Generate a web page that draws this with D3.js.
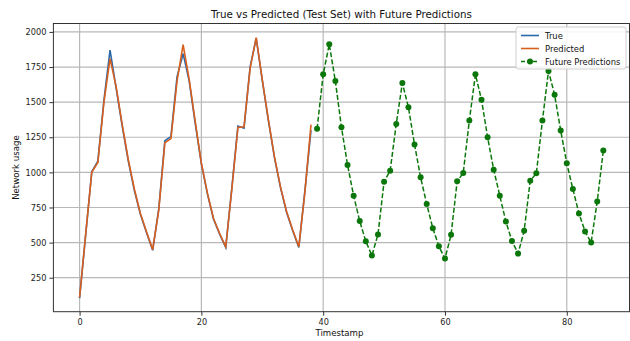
<!DOCTYPE html>
<html>
<head>
<meta charset="utf-8">
<script src="https://cdn.jsdelivr.net/npm/d3@7"></script>
<style>
  body { margin: 0; background: #fff; }
  svg { display: block; font-family: "DejaVu Sans", sans-serif; }
</style>
</head>
<body>
<div id="chart"></div>
<script>
// test set: timestamps 0..38
var trueVals = [105, 555, 1005, 1080, 1515, 1870, 1600, 1330, 1080, 870, 700, 570, 445,
                740, 1225, 1255, 1680, 1845, 1650, 1345, 1060, 845, 667, 560, 465,
                890, 1330, 1315, 1750, 1955, 1655, 1370, 1105, 890, 715, 585, 465,
                870, 1300];
var predVals = [110, 560, 1000, 1070, 1500, 1810, 1610, 1340, 1090, 880, 705, 575, 450,
                730, 1210, 1240, 1650, 1910, 1660, 1360, 1065, 850, 670, 565, 470,
                880, 1320, 1325, 1740, 1960, 1660, 1375, 1110, 895, 720, 590, 470,
                860, 1340];
// future predictions: timestamps 39..86
var futureStart = 39;
var futureVals = [1310, 1698, 1912, 1650, 1322, 1053, 834, 653, 510, 408,
                  558, 934, 1012, 1345, 1636, 1464, 1198, 965, 774, 603, 474, 386,
                  555, 936, 996, 1369, 1698, 1517, 1250, 1019, 834, 650, 512, 422,
                  584, 941, 993, 1369, 1722, 1553, 1298, 1065, 881, 708, 579, 501,
                  793, 1155];
var xTicks = [0, 20, 40, 60, 80];
var yTicks = [250, 500, 750, 1000, 1250, 1500, 1750, 2000];
var legendLabels = ["True", "Predicted", "Future Predictions"];

var width = 630, height = 341;
var pLeft = 53.4, pRight = 629.5, pTop = 23.5, pBottom = 311.7;

var svg = d3.select("#chart").append("svg")
  .attr("width", width)
  .attr("height", height);

var x = d3.scaleLinear().domain([-4.3, 90.3]).range([pLeft, pRight]);
var y = d3.scaleLinear().domain([8, 2060]).range([pBottom, pTop]);

// grid
svg.append("g").selectAll("line").data(xTicks).enter().append("line")
  .attr("x1", function(d){ return x(d); }).attr("x2", function(d){ return x(d); })
  .attr("y1", pTop).attr("y2", pBottom)
  .attr("stroke", "#b8b8b8").attr("stroke-width", 1.2);
svg.append("g").selectAll("line").data(yTicks).enter().append("line")
  .attr("x1", pLeft).attr("x2", pRight)
  .attr("y1", function(d){ return y(d); }).attr("y2", function(d){ return y(d); })
  .attr("stroke", "#b8b8b8").attr("stroke-width", 1.2);

// axes
var xAxis = svg.append("g")
  .attr("transform", "translate(0," + pBottom + ")")
  .call(d3.axisBottom(x).tickValues(xTicks).tickSize(4).tickPadding(3).tickFormat(d3.format("d")));
var yAxis = svg.append("g")
  .attr("transform", "translate(" + pLeft + ",0)")
  .call(d3.axisLeft(y).tickValues(yTicks).tickSize(4).tickPadding(3).tickFormat(d3.format("d")));
[xAxis, yAxis].forEach(function(a){
  a.select(".domain").remove();
  a.selectAll("text").attr("font-size", "8.2px").attr("fill", "#222").attr("font-family", "DejaVu Sans");
  a.selectAll("line").attr("stroke", "#333");
});

var line = d3.line()
  .x(function(d){ return x(d[0]); })
  .y(function(d){ return y(d[1]); });

var trueData = trueVals.map(function(v, i){ return [i, v]; });
var predData = predVals.map(function(v, i){ return [i, v]; });
var futureData = futureVals.map(function(v, i){ return [futureStart + i, v]; });

var blue = "#2b69a8", orange = "#d95f1f", green = "#0b770b";

svg.append("path").datum(trueData).attr("d", line)
  .attr("fill", "none").attr("stroke", blue).attr("stroke-width", 1.6);
svg.append("path").datum(predData).attr("d", line)
  .attr("fill", "none").attr("stroke", orange).attr("stroke-width", 1.6);
svg.append("path").datum(futureData).attr("d", line)
  .attr("fill", "none").attr("stroke", green).attr("stroke-width", 1.5)
  .attr("stroke-dasharray", "5,2.2");
svg.append("g").selectAll("circle").data(futureData).enter().append("circle")
  .attr("cx", function(d){ return x(d[0]); })
  .attr("cy", function(d){ return y(d[1]); })
  .attr("r", 3)
  .attr("fill", green);

// frame
svg.append("rect")
  .attr("x", pLeft).attr("y", pTop)
  .attr("width", pRight - pLeft).attr("height", pBottom - pTop)
  .attr("fill", "none").attr("stroke", "#333").attr("stroke-width", 1);

// title and labels
svg.append("text")
  .attr("x", (pLeft + pRight) / 2).attr("y", 18)
  .attr("text-anchor", "middle")
  .attr("font-size", "10.3px").attr("fill", "#111")
  .text("True vs Predicted (Test Set) with Future Predictions");
svg.append("text")
  .attr("x", (pLeft + pRight) / 2 - 2).attr("y", 336)
  .attr("text-anchor", "middle")
  .attr("font-size", "8.6px").attr("fill", "#111")
  .text("Timestamp");
svg.append("text")
  .attr("transform", "translate(19," + ((pTop + pBottom) / 2) + ") rotate(-90)")
  .attr("text-anchor", "middle")
  .attr("font-size", "8.6px").attr("fill", "#111")
  .text("Network usage");

// legend
var lg = svg.append("g").attr("transform", "translate(516,27)");
lg.append("rect")
  .attr("width", 110).attr("height", 42).attr("rx", 2.5)
  .attr("fill", "#fff").attr("fill-opacity", 0.85)
  .attr("stroke", "#cfcfcf").attr("stroke-width", 1);
var legendColors = [blue, orange, green];
legendLabels.forEach(function(lbl, i){
  var yy = 8.5 + i * 13;
  var row = lg.append("g").attr("transform", "translate(0," + yy + ")");
  row.append("line")
    .attr("x1", 5).attr("x2", 23).attr("y1", 0).attr("y2", 0)
    .attr("stroke", legendColors[i]).attr("stroke-width", 1.6)
    .attr("stroke-dasharray", i == 2 ? "4,2" : null);
  if (i == 2) {
    row.append("circle").attr("cx", 14).attr("cy", 0).attr("r", 3).attr("fill", green);
  }
  row.append("text")
    .attr("x", 29).attr("y", 3)
    .attr("font-size", "8.4px").attr("fill", "#111")
    .text(lbl);
});
</script>
</body>
</html>
